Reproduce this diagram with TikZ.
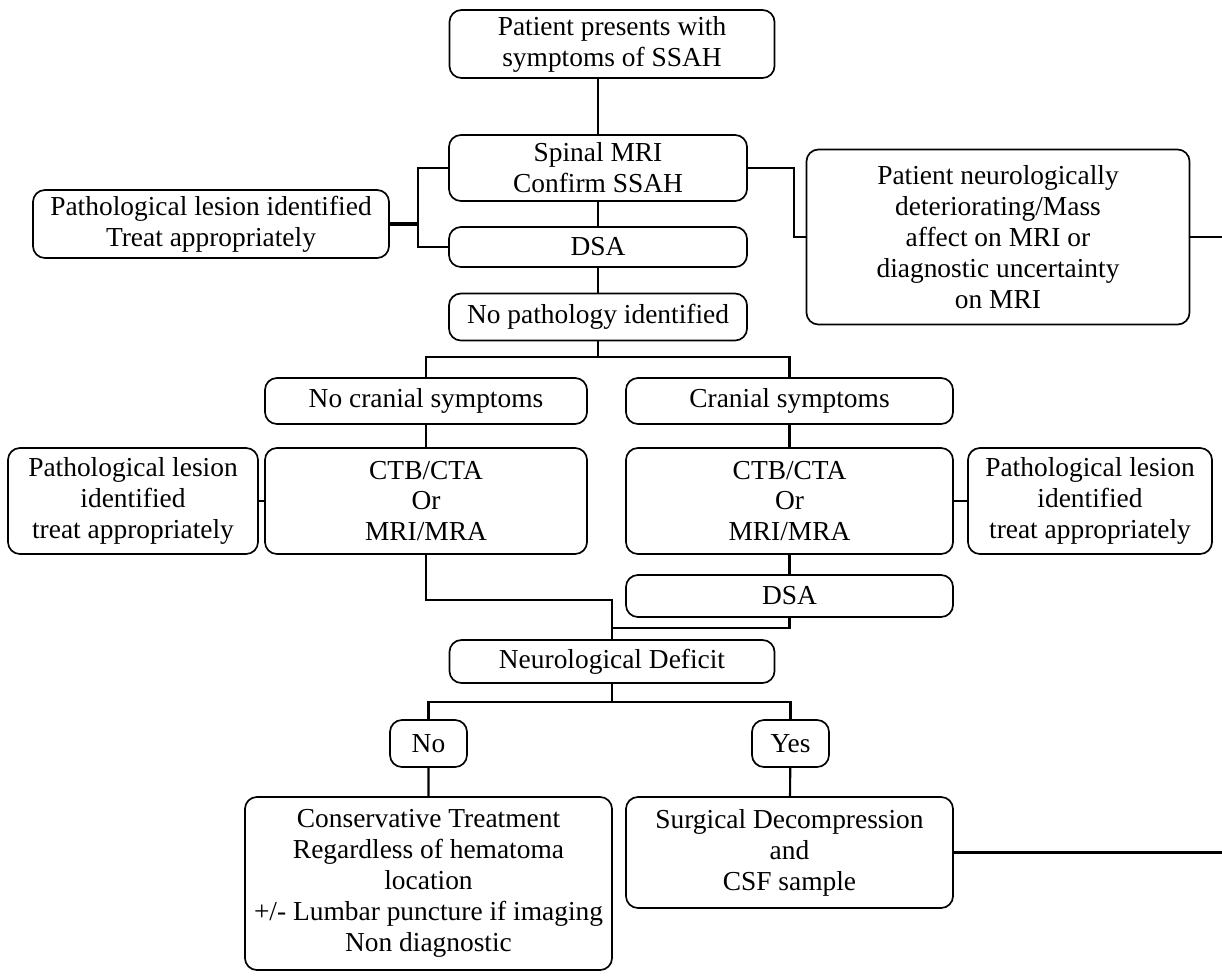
\documentclass[tikz,border=0pt]{standalone}
\usepackage{fontspec}
\setmainfont{Liberation Serif}
\tikzset{
box/.style={draw, rounded corners=0.3cm, align=center, inner sep=0pt, line width=1.2pt, font=\fontsize{19.5}{22}\selectfont},
link/.style={draw, line width=1.5pt},
}
\begin{document}
\begin{tikzpicture}[x=0.025cm, y=-0.025cm]
\useasboundingbox (0,0) rectangle (1222,975);
\node[box, minimum width=8.125cm, minimum height=1.7cm]   (top)    at (612,44)    {Patient presents with\\symptoms of SSAH};
\node[box, minimum width=7.45cm,  minimum height=1.65cm]  (mri)    at (598,168)   {Spinal MRI\\Confirm SSAH};
\node[box, minimum width=7.45cm,  minimum height=1.0cm]   (dsaA)   at (598,247)   {DSA};
\node[box, minimum width=7.45cm,  minimum height=1.175cm] (nopath) at (598,317)   {No pathology identified};
\node[box, minimum width=8.9cm,   minimum height=1.7cm]   (lesA)   at (211,224)   {Pathological lesion identified\\Treat appropriately};
\node[box, minimum width=9.575cm, minimum height=4.375cm] (deter)  at (998,237)   {Patient neurologically\\deteriorating/Mass\\affect on MRI or\\diagnostic uncertainty\\on MRI};
\node[box, minimum width=8.05cm,  minimum height=1.15cm]  (nocran) at (426,401)   {No cranial symptoms};
\node[box, minimum width=8.175cm, minimum height=1.15cm]  (cran)   at (789.5,401) {Cranial symptoms};
\node[box, minimum width=8.05cm,  minimum height=2.65cm]  (ctbL)   at (426,501)   {CTB/CTA\\Or\\MRI/MRA};
\node[box, minimum width=8.175cm, minimum height=2.65cm]  (ctbR)   at (789.5,501) {CTB/CTA\\Or\\MRI/MRA};
\node[box, minimum width=6.25cm,  minimum height=2.65cm]  (lesL)   at (133,501)   {Pathological lesion\\identified\\treat appropriately};
\node[box, minimum width=6.1cm,   minimum height=2.65cm]  (lesR)   at (1090,501)  {Pathological lesion\\identified\\treat appropriately};
\node[box, minimum width=8.175cm, minimum height=1.05cm]  (dsaB)   at (789.5,596) {DSA};
\node[box, minimum width=8.125cm, minimum height=1.075cm] (neuro)  at (612,661.5) {Neurological Deficit};
\node[box, minimum width=1.925cm, minimum height=1.175cm] (no)     at (428.5,743.5) {No};
\node[box, minimum width=1.925cm, minimum height=1.175cm] (yes)    at (790.5,743.5) {Yes};
\node[box, minimum width=9.175cm, minimum height=4.325cm] (cons)   at (428.5,883.5) {Conservative Treatment\\Regardless of hematoma\\location\\+/- Lumbar puncture if imaging\\Non diagnostic};
\node[box, minimum width=8.175cm, minimum height=2.775cm] (surg)   at (789.5,852.5) {Surgical Decompression\\and\\CSF sample};
\coordinate (jL) at (418,224);
\coordinate (bA) at (598,357);
\coordinate (bB) at (612,600);
\coordinate (bC) at (612,628);
\coordinate (bD) at (612,702);
\coordinate (edgeA) at (1222,237);
\coordinate (edgeB) at (1222,852.5);
\draw[link] (mri.north |- top.south) -- (mri.north) (mri) -- (dsaA) (dsaA) -- (nopath);
\draw[link, line width=2.2pt] (lesA.east) -- (jL);
\draw[link] (mri.west) -| (jL) |- (dsaA.west);
\draw[link] (mri.east) -- ++(46,0) |- (deter.west);
\draw[link] (deter.east) -- (edgeA);
\draw[link] (nopath.south) -- (bA);
\foreach \n in {nocran,cran}
{
\draw[link] (bA) -| (\n.north);
}
\draw[link] (nocran) -- (ctbL) (cran) -- (ctbR) (ctbR) -- (dsaB);
\draw[link] (lesL) -- (ctbL) (ctbR) -- (lesR);
\draw[link] (ctbL.south) |- (bB) -- (neuro.north);
\draw[link] (dsaB.south) |- (bC);
\draw[link] (neuro.south) -- (bD);
\foreach \n in {no,yes}
{
\draw[link] (bD) -| (\n.north);
}
\draw[link] (no) -- (cons) (yes) -- (surg);
\draw[link] (surg.east) -- (edgeB);
\end{tikzpicture}
\end{document}
